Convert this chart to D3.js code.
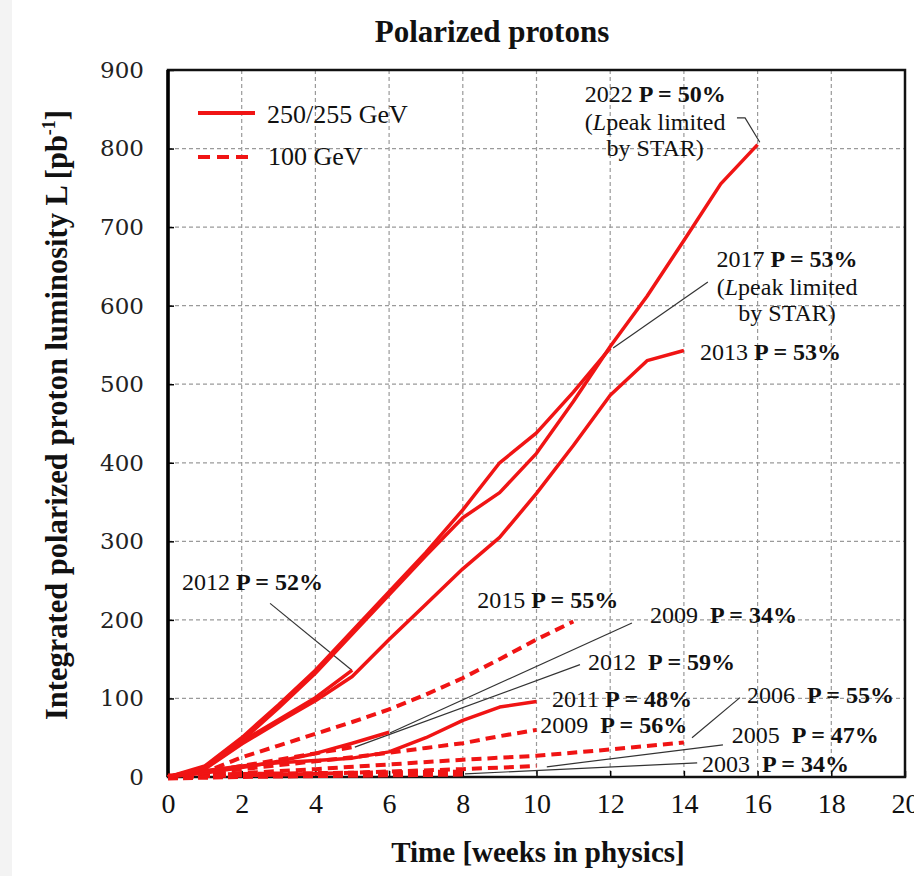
<!DOCTYPE html>
<html>
<head>
<meta charset="utf-8">
<script src="https://cdn.jsdelivr.net/npm/d3@7"></script>
<style>
  body { margin: 0; background: #fff; }
  svg text { white-space: pre; }
</style>
</head>
<body>
<div id="chart"></div>
<script>
// ---- data (weeks in physics, integrated luminosity pb^-1) ----

const run2022_255 = [[0,0],[1,12],[2,46],[3,88],[4,132],[5,182],[6,232],[7,282],[8,330],[9,362],[10,412],[11,478],[12,548],[13,612],[14,683],[15,755],[16,805]];
const run2017_255 = [[0,0],[1,14],[2,50],[3,92],[4,136],[5,186],[6,236],[7,286],[8,340],[9,400],[10,438],[11,490],[12,546]];
const run2013_255 = [[0,0],[1,10],[2,42],[3,70],[4,97],[5,128],[6,175],[7,220],[8,265],[9,305],[10,361],[11,422],[12,486],[13,530],[14,543]];
const run2012_255 = [[0,0],[1,12],[2,45],[3,73],[4,101],[5,136]];
const run2011_250 = [[0,0],[1,8],[2,14],[3,18],[4,21],[5,24],[6,32],[7,50],[8,72],[9,89],[10,96]];
const run2009_250 = [[0,0],[1,5],[2,12],[3,20],[4,30],[5,43],[6,57]];

const run2015_100 = [[0,0],[1,6],[2,25],[3,40],[4,55],[5,70],[6,86],[7,105],[8,126],[9,150],[10,175],[11,198]];
const run2012_100 = [[0,0],[1,6],[2,14],[3,22],[4,30],[5,38]];
const run2009_100 = [[0,0],[1,5],[2,10],[3,15],[4,20],[5,25],[6,31],[7,37],[8,43],[9,52],[10,60]];
const run2006_100 = [[0,0],[2,5],[4,10],[6,16],[8,22],[10,27],[12,35],[14,44]];
const run2005_100 = [[0,0],[2,2],[4,4],[6,7],[8,10],[10,14]];
const run2003_100 = [[0,0],[2,2],[4,3],[6,4],[8,5]];

const xTicks = [0, 2, 4, 6, 8, 10, 12, 14, 16, 18, 20];
const yTicks = [0, 100, 200, 300, 400, 500, 600, 700, 800, 900];

// series list: solid = 250/255 GeV, dashed = 100 GeV
const series = [
  { values: run2003_100, dashed: true, heavy: true },
  { values: run2005_100, dashed: true },
  { values: run2006_100, dashed: true },
  { values: run2009_100, dashed: true },
  { values: run2012_100, dashed: true },
  { values: run2015_100, dashed: true },
  { values: run2009_250, dashed: false },
  { values: run2011_250, dashed: false },
  { values: run2012_255, dashed: false },
  { values: run2013_255, dashed: false },
  { values: run2017_255, dashed: false },
  { values: run2022_255, dashed: false }
];

// labels: [week, lumi] of baseline start, regular part, bold part
const labels = [
  { at: [0.38, 238], year: "2012 ", pol: "P = 52%" },
  { at: [8.39, 215], year: "2015 ", pol: "P = 55%" },
  { at: [13.08, 196], year: "2009  ", pol: "P = 34%" },
  { at: [11.4, 136], year: "2012  ", pol: "P = 59%" },
  { at: [10.42, 89], year: "2011 ", pol: "P = 48%" },
  { at: [10.1, 56], year: "2009  ", pol: "P = 56%" },
  { at: [15.71, 94], year: "2006  ", pol: "P = 55%" },
  { at: [15.3, 43], year: "2005  ", pol: "P = 47%" },
  { at: [14.49, 6], year: "2003  ", pol: "P = 34%" },
  { at: [14.44, 531], year: "2013 ", pol: "P = 53%" }
];

// stacked labels with "(Lpeak limited / by STAR)"
const blockLabels = [
  { at: [13.22, 859], dy: [0, 28, 54], year: "2022 ", pol: "P = 50%" },
  { at: [16.8, 649], dy: [0, 28, 54], year: "2017 ", pol: "P = 53%" }
];

// leader lines (week, lumi)
const leaders = [
  [[15.44, 839], [15.66, 839], [16.06, 808]],
  [[14.65, 630], [12.08, 546]],
  [[2.77, 221], [4.99, 136]],
  [[12.59, 196], [6.02, 56]],
  [[11.18, 143], [5.07, 38]],
  [[15.52, 101], [14.22, 50]],
  [[15.06, 41], [10.28, 13]],
  [[14.36, 18], [8.06, 4]]
];

// ---- layout ----
const W = 914, H = 876;
const plotL = 168, plotR = 905, plotT = 70, plotB = 777;
const red = "#f01414";
const serif = "'Liberation Serif', 'Times New Roman', serif";

const svg = d3.select("#chart").append("svg")
  .attr("width", W).attr("height", H)
  .attr("viewBox", [0, 0, W, H]);

// faint grey strip on the left edge
svg.append("rect").attr("x", 0).attr("y", 0).attr("width", 12).attr("height", H).attr("fill", "#f3f3f3");

const x = d3.scaleLinear().domain([0, 20]).range([plotL, plotR]);
const y = d3.scaleLinear().domain([0, 900]).range([plotB, plotT]);

// grid
const grid = svg.append("g").attr("stroke", "#9a9a9a").attr("stroke-width", 1.2).attr("stroke-dasharray", "4,3");
grid.selectAll("line.gx").data(xTicks.slice(1, -1)).join("line").attr("class", "gx")
  .attr("x1", d => x(d)).attr("x2", d => x(d)).attr("y1", plotT).attr("y2", plotB);
grid.selectAll("line.gy").data(yTicks.slice(1, -1)).join("line").attr("class", "gy")
  .attr("y1", d => y(d)).attr("y2", d => y(d)).attr("x1", plotL).attr("x2", plotR);

// axes (ticks inside the frame)
const xAxis = svg.append("g").attr("transform", `translate(0,${plotB})`)
  .call(d3.axisBottom(x).tickValues(xTicks).tickSizeInner(-6).tickSizeOuter(0).tickPadding(16));
xAxis.select(".domain").remove();
xAxis.selectAll("line").attr("stroke", "#000").attr("stroke-width", 1.5);
xAxis.selectAll("text").attr("font-family", serif).attr("font-size", 28).attr("fill", "#111")
  .attr("dy", "0.71em");

const yAxis = svg.append("g").attr("transform", `translate(${plotL},0)`)
  .call(d3.axisLeft(y).tickValues(yTicks).tickSizeInner(-6).tickSizeOuter(0).tickPadding(24));
yAxis.select(".domain").remove();
yAxis.selectAll("line").attr("stroke", "#000").attr("stroke-width", 1.5);
yAxis.selectAll("text").attr("font-family", "'DejaVu Serif', serif").attr("font-size", 23).attr("fill", "#222");

// frame
svg.append("rect").attr("x", plotL).attr("y", plotT).attr("width", plotR - plotL).attr("height", plotB - plotT)
  .attr("fill", "none").attr("stroke", "#111").attr("stroke-width", 2.5);
svg.append("line").attr("x1", plotL).attr("x2", plotL).attr("y1", plotT).attr("y2", plotB)
  .attr("stroke", "#000").attr("stroke-width", 3.5);

// leader lines
const leaderLine = d3.line().x(d => x(d[0])).y(d => y(d[1]));
svg.append("g").selectAll("path").data(leaders).join("path")
  .attr("d", leaderLine).attr("fill", "none").attr("stroke", "#333").attr("stroke-width", 1.2);

// series lines
const line = d3.line().x(d => x(d[0])).y(d => y(d[1]));
svg.append("g").selectAll("path").data(series).join("path")
  .attr("d", d => line(d.values))
  .attr("fill", "none")
  .attr("stroke", red)
  .attr("stroke-width", d => d.heavy ? 7 : d.dashed ? 4 : 3.5)
  .attr("stroke-dasharray", d => d.heavy ? "10,5" : d.dashed ? "10,6" : null)
  .attr("stroke-linejoin", "round");

// simple labels
const lab = svg.append("g").attr("font-family", serif).attr("font-size", 24).attr("fill", "#111");
labels.forEach(l => {
  const t = lab.append("text").attr("x", x(l.at[0])).attr("y", y(l.at[1]));
  t.append("tspan").text(l.year);
  t.append("tspan").attr("font-weight", "bold").text(l.pol);
});

// stacked labels
blockLabels.forEach(l => {
  const g = lab.append("g").attr("text-anchor", "middle");
  const cx = x(l.at[0]), cy = y(l.at[1]);
  const t1 = g.append("text").attr("x", cx).attr("y", cy + l.dy[0]);
  t1.append("tspan").text(l.year);
  t1.append("tspan").attr("font-weight", "bold").text(l.pol);
  const t2 = g.append("text").attr("x", cx).attr("y", cy + l.dy[1]);
  t2.append("tspan").text("(");
  t2.append("tspan").attr("font-style", "italic").text("L");
  t2.append("tspan").text("peak limited");
  g.append("text").attr("x", cx).attr("y", cy + l.dy[2]).text("by STAR)");
});

// legend
const legend = svg.append("g").attr("font-family", serif).attr("font-size", 26).attr("fill", "#111");
legend.append("line").attr("x1", 198).attr("x2", 255).attr("y1", 113).attr("y2", 113)
  .attr("stroke", red).attr("stroke-width", 4);
legend.append("line").attr("x1", 198).attr("x2", 252).attr("y1", 157).attr("y2", 157)
  .attr("stroke", red).attr("stroke-width", 4).attr("stroke-dasharray", "12,7");
legend.append("text").attr("x", 267).attr("y", 123).text("250/255 GeV");
legend.append("text").attr("x", 268).attr("y", 165).text("100 GeV");

// titles
svg.append("text").attr("x", 492).attr("y", 42).attr("text-anchor", "middle")
  .attr("font-family", serif).attr("font-size", 31).attr("font-weight", "bold").attr("fill", "#111")
  .text("Polarized protons");

svg.append("text").attr("x", 538).attr("y", 862).attr("text-anchor", "middle")
  .attr("font-family", serif).attr("font-size", 29).attr("font-weight", "bold").attr("fill", "#111")
  .text("Time [weeks in physics]");

const yt = svg.append("text").attr("transform", "translate(67,415) rotate(-90)").attr("text-anchor", "middle")
  .attr("font-family", serif).attr("font-size", 30.5).attr("font-weight", "bold").attr("fill", "#111");
yt.append("tspan").text("Integrated polarized proton luminosity L [pb");
yt.append("tspan").attr("font-size", 18).attr("dy", -12).text("-1");
yt.append("tspan").attr("dy", 12).text("]");
</script>
</body>
</html>
